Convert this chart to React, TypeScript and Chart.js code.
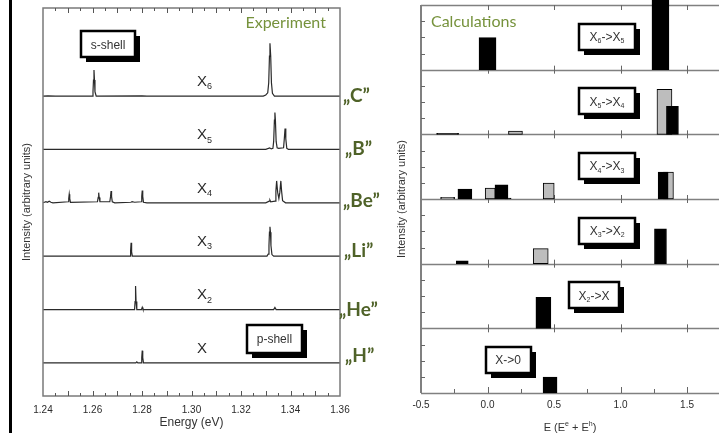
import React, { useEffect, useRef } from 'react';
import { Chart, registerables } from 'chart.js';

Chart.register(...registerables);

// ================= DATA: Experiment (left panel) =================
const energyLabelTicks = [1.24, 1.26, 1.28, 1.3, 1.32, 1.34, 1.36];
const energyMarkTicks = [
  1.245, 1.25, 1.255, 1.26, 1.265, 1.27, 1.275, 1.28, 1.285, 1.29, 1.295, 1.3,
  1.305, 1.31, 1.315, 1.32, 1.325, 1.33, 1.335, 1.34, 1.345, 1.35, 1.355,
];

const spectrumLabels = ['X_6', 'X_5', 'X_4', 'X_3', 'X_2', 'X'];
const elementLabels = ['„C”', '„B”', '„Be”', '„Li”', '„He”', '„H”'];

// [energy (eV), intensity above baseline (arb. units)]
const specX6 = [
  [1.24, 0], [1.242, 0.005], [1.245, 0], [1.2598, 0], [1.2602, 0.08], [1.2604, 0.3],
  [1.2606, 0.49], [1.2608, 0.3], [1.261, 0.08], [1.2615, 0], [1.28, 0.005], [1.282, 0],
  [1.329, 0], [1.33, 0.02], [1.3308, 0.06], [1.3312, 0.25], [1.3315, 0.75], [1.3317, 0.99],
  [1.332, 0.75], [1.3323, 0.25], [1.3327, 0.05], [1.3335, 0], [1.36, 0],
];
const specX5 = [
  [1.24, 0], [1.33, 0], [1.3316, 0.03], [1.3322, 0.01], [1.3329, 0.02], [1.3332, 0.15],
  [1.3335, 0.55], [1.3337, 0.69], [1.3339, 0.55], [1.3342, 0.15], [1.3346, 0.03],
  [1.3352, 0.02], [1.3372, 0.03], [1.3375, 0.2], [1.3378, 0.39], [1.3381, 0.2],
  [1.3385, 0.02], [1.3392, 0], [1.36, 0],
];
const specX4 = [
  [1.24, 0], [1.2412, 0.02], [1.2418, 0.01], [1.2425, 0.03], [1.2432, 0.01], [1.244, 0],
  [1.2502, 0.02], [1.2504, 0.08], [1.2506, 0.16], [1.2508, 0.08], [1.2511, 0.01],
  [1.262, 0.02], [1.2623, 0.1], [1.2625, 0.19], [1.2627, 0.1], [1.263, 0.02],
  [1.267, 0.02], [1.2673, 0.12], [1.2675, 0.22], [1.2677, 0.12], [1.268, 0.02], [1.269, 0],
  [1.2755, 0.01], [1.276, 0.02], [1.277, 0.01], [1.2797, 0.02], [1.2799, 0.12],
  [1.2801, 0.23], [1.2803, 0.12], [1.2806, 0.01], [1.282, 0], [1.33, 0], [1.3314, 0.03],
  [1.3317, 0.05], [1.332, 0.02], [1.3338, 0.03], [1.3341, 0.22], [1.3344, 0.41],
  [1.3348, 0.2], [1.3353, 0.08], [1.3357, 0.2], [1.3361, 0.41], [1.3364, 0.22],
  [1.3368, 0.04], [1.338, 0], [1.36, 0],
];
const specX3 = [
  [1.24, 0], [1.2752, 0], [1.2754, 0.1], [1.2756, 0.25], [1.2758, 0.08], [1.2761, 0],
  [1.3305, 0], [1.331, 0.04], [1.3313, 0.2], [1.3315, 0.45], [1.3317, 0.55], [1.3319, 0.45],
  [1.3321, 0.2], [1.3325, 0.03], [1.3332, 0], [1.36, 0],
];
const specX2 = [
  [1.24, 0], [1.277, 0], [1.2772, 0.15], [1.2774, 0.44], [1.2776, 0.15], [1.2779, 0],
  [1.2798, 0], [1.2801, 0.04], [1.2804, 0], [1.3332, 0], [1.3337, 0.04], [1.3342, 0], [1.36, 0],
];
const specX1 = [
  [1.24, 0], [1.2775, 0], [1.2779, 0.02], [1.2783, 0], [1.2797, 0], [1.2799, 0.1],
  [1.2801, 0.23], [1.2803, 0.1], [1.2806, 0], [1.36, 0],
];
const spectra = [specX6, specX5, specX4, specX3, specX2, specX1];

// ================= DATA: Calculations (right panel) =================
const calcLabelTicks = [-0.5, 0, 0.5, 1, 1.5];
const calcMarkTicks = [-0.25, 0, 0.25, 0.5, 0.75, 1, 1.25, 1.5];
const transitionLabels = ['X_6->X_5', 'X_5->X_4', 'X_4->X_3', 'X_3->X_2', 'X_2->X', 'X->0'];

// panel index 0 = top (X6->X5) ... 5 = bottom (X->0)
const barPanel = [0, 0, 1, 1, 1, 1, 2, 2, 2, 2, 2, 2, 2, 2, 3, 3, 3, 4, 5];
const barEnergy = [0.0, 1.3, -0.3, 0.21, 1.39, 1.33, -0.3, -0.17, 0.02, 0.105, 0.155, 0.46, 1.32, 1.36, -0.19, 0.4, 1.3, 0.42, 0.47];
const barHeight = [1.98, 4.8, 0.06, 0.2, 1.73, 2.78, 0.1, 0.62, 0.68, 0.87, 0.05, 0.99, 1.67, 1.67, 0.18, 0.93, 2.16, 1.92, 0.99];
const barShade = ['b', 'b', 'b', 'g', 'b', 'g', 'g', 'b', 'g', 'b', 'b', 'g', 'b', 'g', 'b', 'g', 'b', 'b', 'b'];

// ================= STYLE / LAYOUT =================
const FONT = '"Liberation Sans", Arial, Helvetica, sans-serif';
const GREEN_LIGHT = '#76923c';
const GREEN_DARK = '#4f6228';
const PANEL = 4;
const barThicknessPx = [17, 17, 22, 14, 12, 15, 14, 14, 10, 13, 6, 11, 10, 10, 12, 15, 12, 15, 14];
const boxCenterE = [0.898, 0.898, 0.898, 0.9, 0.8, 0.154];
const boxWidthPx = [56, 56, 56, 56, 50, 45];
const elementLeft = [343, 345, 343, 344, 339, 345];
const elementCapY = [95, 148, 200, 250, 309, 355];

type Part = { t: string; k: number };
function parseRich(s: string): Part[] {
  const out: Part[] = [];
  const re = /([_^])(\w)/g;
  let last = 0;
  let m: RegExpExecArray | null;
  while ((m = re.exec(s))) {
    if (m.index > last) out.push({ t: s.slice(last, m.index), k: 0 });
    out.push({ t: m[2], k: m[1] === '_' ? 1 : 2 });
    last = re.lastIndex;
  }
  if (last < s.length) out.push({ t: s.slice(last), k: 0 });
  return out;
}
function richWidth(ctx: CanvasRenderingContext2D, parts: Part[], size: number) {
  let w = 0;
  for (const p of parts) {
    ctx.font = `${p.k ? Math.round(size * 0.6) : size}px ${FONT}`;
    w += ctx.measureText(p.t).width;
  }
  return w;
}
function drawRich(ctx: CanvasRenderingContext2D, parts: Part[], x: number, cy: number, size: number, color: string) {
  const base = cy + size * 0.36;
  let cx = x;
  ctx.fillStyle = color;
  ctx.textAlign = 'left';
  ctx.textBaseline = 'alphabetic';
  for (const p of parts) {
    const fs = p.k ? Math.round(size * 0.6) : size;
    ctx.font = `${fs}px ${FONT}`;
    const yy = p.k === 1 ? base + size * 0.22 : p.k === 2 ? base - size * 0.45 : base;
    ctx.fillText(p.t, cx, yy);
    cx += ctx.measureText(p.t).width;
  }
}
function drawBox(ctx: CanvasRenderingContext2D, cx: number, cy: number, w: number, h: number, text: string, size: number) {
  const l = Math.round(cx - w / 2);
  const t = Math.round(cy - h / 2);
  ctx.fillStyle = '#000';
  ctx.fillRect(l + 5, t + 5, w, h);
  ctx.fillStyle = '#fff';
  ctx.fillRect(l, t, w, h);
  ctx.lineWidth = 2.5;
  ctx.strokeStyle = '#000';
  ctx.strokeRect(l, t, w, h);
  const parts = parseRich(text);
  const tw = richWidth(ctx, parts, size);
  drawRich(ctx, parts, cx - tw / 2, cy, size, '#333');
}

const experimentDecor = {
  id: 'experimentDecor',
  afterDatasetsDraw(chart: any) {
    const { ctx, chartArea: a, scales } = chart;
    const x = scales.x;
    const y = scales.y;
    ctx.save();
    ctx.strokeStyle = '#7a7a7a';
    ctx.lineWidth = 1.5;
    ctx.strokeRect(a.left, a.top, a.right - a.left, a.bottom - a.top);
    ctx.strokeStyle = '#555';
    ctx.lineWidth = 1;
    ctx.beginPath();
    for (const v of energyMarkTicks) {
      const px = Math.round(x.getPixelForValue(v)) + 0.5;
      const major = Math.abs(v * 100 - Math.round(v * 100)) < 1e-6;
      const len = major ? 5 : 3;
      ctx.moveTo(px, a.bottom);
      ctx.lineTo(px, a.bottom - len);
      ctx.moveTo(px, a.top);
      ctx.lineTo(px, a.top + len);
    }
    ctx.stroke();
    spectrumLabels.forEach((lab, i) => {
      const off = spectra.length - 1 - i;
      drawRich(ctx, parseRich(lab), x.getPixelForValue(1.3022), y.getPixelForValue(off + 0.29), 15, '#2b2b2b');
    });
    ctx.font = `16px Lato, ${FONT}`;
    ctx.fillStyle = GREEN_LIGHT;
    ctx.textAlign = 'right';
    ctx.textBaseline = 'middle';
    ctx.fillText('Experiment', x.getPixelForValue(1.3543), y.getPixelForValue(6.37));
    drawBox(ctx, x.getPixelForValue(1.2663), y.getPixelForValue(5.97), 54, 26, 's-shell', 12);
    drawBox(ctx, x.getPixelForValue(1.3335), y.getPixelForValue(0.45), 55, 28, 'p-shell', 12);
    ctx.restore();
  },
};

const calcDecor = {
  id: 'calcDecor',
  beforeDatasetsDraw(chart: any) {
    const { ctx, chartArea: a, scales } = chart;
    const x = scales.x;
    const y = scales.y;
    ctx.save();
    ctx.strokeStyle = '#808080';
    ctx.lineWidth = 1.5;
    ctx.beginPath();
    for (let k = 0; k <= 6; k++) {
      const py = Math.round(y.getPixelForValue(k * PANEL)) + 0.5;
      ctx.moveTo(a.left, py);
      ctx.lineTo(a.right, py);
    }
    ctx.stroke();
    ctx.lineWidth = 2;
    ctx.beginPath();
    ctx.moveTo(a.left, a.top);
    ctx.lineTo(a.left, a.bottom);
    ctx.stroke();
    ctx.lineWidth = 1;
    ctx.strokeStyle = '#666';
    ctx.beginPath();
    for (let v = 1; v < 6 * PANEL; v++) {
      if (v % PANEL === 0) continue;
      const py = Math.round(y.getPixelForValue(v)) + 0.5;
      ctx.moveTo(a.left, py);
      ctx.lineTo(a.left + 4, py);
    }
    for (const v of calcMarkTicks) {
      const px = Math.round(x.getPixelForValue(v)) + 0.5;
      const major = Math.abs(v * 2 - Math.round(v * 2)) < 1e-6;
      ctx.moveTo(px, a.bottom);
      ctx.lineTo(px, a.bottom - (major ? 6 : 4));
      if (major) {
        for (let k = 1; k < 6; k++) {
          const py = y.getPixelForValue(k * PANEL);
          ctx.moveTo(px, py - 4);
          ctx.lineTo(px, py + 4);
        }
        ctx.moveTo(px, a.top);
        ctx.lineTo(px, a.top + 5);
      }
    }
    ctx.stroke();
    ctx.restore();
  },
  afterDatasetsDraw(chart: any) {
    const { ctx, chartArea: a, scales } = chart;
    const x = scales.x;
    const y = scales.y;
    ctx.save();
    transitionLabels.forEach((lab, i) => {
      const base = (5 - i) * PANEL;
      drawBox(ctx, x.getPixelForValue(boxCenterE[i]), y.getPixelForValue(base + 2.05), boxWidthPx[i], 26, lab, 12);
    });
    ctx.font = `16px Lato, ${FONT}`;
    ctx.fillStyle = GREEN_LIGHT;
    ctx.textAlign = 'left';
    ctx.textBaseline = 'middle';
    ctx.fillText('Calculations', x.getPixelForValue(-0.425), y.getPixelForValue(22.95));
    const title = parseRich('E (E^e + E^h)');
    const tw = richWidth(ctx, title, 11);
    drawRich(ctx, title, (a.left + a.right) / 2 - tw / 2, 427, 11, '#333');
    ctx.restore();
  },
};

export default function App() {
  const leftRef = useRef<HTMLCanvasElement>(null);
  const rightRef = useRef<HTMLCanvasElement>(null);

  useEffect(() => {
    const tickFont = { size: 10, family: FONT };
    const left = new Chart(leftRef.current as HTMLCanvasElement, {
      type: 'line',
      data: {
        datasets: spectra.map((s, i) => ({
          data: s.map(([e, v]) => ({ x: e, y: v + (spectra.length - 1 - i) })),
          borderColor: '#2a2a2a',
          borderWidth: 1.2,
          pointRadius: 0,
          tension: 0,
          fill: false,
        })),
      },
      options: {
        animation: false,
        responsive: false,
        events: [],
        layout: { padding: { top: 8, right: 20, left: 0, bottom: 0 } },
        plugins: { legend: { display: false }, tooltip: { enabled: false } },
        scales: {
          x: {
            type: 'linear',
            min: 1.24,
            max: 1.36,
            grid: { display: false },
            border: { display: false },
            afterBuildTicks: (s: any) => {
              s.ticks = energyLabelTicks.map((v) => ({ value: v }));
            },
            ticks: {
              callback: (v: any) => Number(v).toFixed(2),
              font: tickFont,
              color: '#2b2b2b',
              padding: 0,
              maxRotation: 0,
              autoSkip: false,
            },
            title: {
              display: true,
              text: 'Energy (eV)',
              font: { size: 12, family: FONT },
              color: '#333',
              padding: { top: 0, bottom: 3 },
            },
            afterFit: (s: any) => {
              s.height = 37;
            },
          },
          y: {
            type: 'linear',
            min: -0.62,
            max: 6.65,
            grid: { display: false },
            border: { display: false },
            ticks: { display: false },
            title: {
              display: true,
              text: 'Intensity (arbitrary units)',
              font: { size: 11, family: FONT },
              color: '#333',
              padding: { top: 8, bottom: 0 },
            },
            afterFit: (s: any) => {
              s.width = 31;
            },
          },
        },
      } as any,
      plugins: [experimentDecor],
    });

    const right = new Chart(rightRef.current as HTMLCanvasElement, {
      type: 'bar',
      data: {
        datasets: barEnergy.map((e, i) => {
          const base = (5 - barPanel[i]) * PANEL;
          return {
            data: [{ x: e, y: [base, base + barHeight[i]] }],
            backgroundColor: barShade[i] === 'b' ? '#000000' : '#bdbdbd',
            borderColor: '#000000',
            borderWidth: 1,
            borderSkipped: false,
            barThickness: barThicknessPx[i],
            grouped: false,
            clip: false,
          };
        }),
      } as any,
      options: {
        animation: false,
        responsive: false,
        events: [],
        layout: { padding: { top: 5, right: 0, left: 0, bottom: 0 } },
        plugins: { legend: { display: false }, tooltip: { enabled: false } },
        scales: {
          x: {
            type: 'linear',
            min: -0.5,
            max: 1.74,
            offset: false,
            grid: { display: false, offset: false },
            border: { display: false },
            afterBuildTicks: (s: any) => {
              s.ticks = calcLabelTicks.map((v) => ({ value: v }));
            },
            ticks: {
              callback: (v: any) => Number(v).toFixed(1),
              font: tickFont,
              color: '#2b2b2b',
              padding: -2,
              maxRotation: 0,
              autoSkip: false,
            },
            afterFit: (s: any) => {
              s.height = 40;
            },
          },
          y: {
            type: 'linear',
            min: 0,
            max: 6 * PANEL,
            grid: { display: false },
            border: { display: false },
            ticks: { display: false },
            title: {
              display: true,
              text: 'Intensity (arbitrary units)',
              font: { size: 11, family: FONT },
              color: '#333',
              padding: { top: 15, bottom: 0 },
            },
            afterFit: (s: any) => {
              s.width = 41;
            },
          },
        },
      } as any,
      plugins: [calcDecor],
    });

    return () => {
      left.destroy();
      right.destroy();
    };
  }, []);

  return (
    <div
      style={{
        position: 'fixed',
        left: 0,
        top: 0,
        width: 719,
        height: 433,
        background: '#fff',
        overflow: 'hidden',
      }}
    >
      <div style={{ position: 'absolute', left: 9, top: 0, width: 3, height: 433, background: '#000' }} />
      <canvas
        ref={leftRef}
        width={348}
        height={433}
        style={{ position: 'absolute', left: 12, top: 0, width: 348, height: 433 }}
      />
      <canvas
        ref={rightRef}
        width={339}
        height={433}
        style={{ position: 'absolute', left: 380, top: 0, width: 339, height: 433 }}
      />
      {elementLabels.map((t, i) => (
        <div
          key={t}
          style={{
            position: 'absolute',
            left: elementLeft[i],
            top: elementCapY[i] - 10,
            fontFamily: 'Lato, "Open Sans", sans-serif',
            fontWeight: 700,
            fontSize: 19,
            lineHeight: '19px',
            color: GREEN_DARK,
            whiteSpace: 'nowrap',
          }}
        >
          {t}
        </div>
      ))}
    </div>
  );
}
